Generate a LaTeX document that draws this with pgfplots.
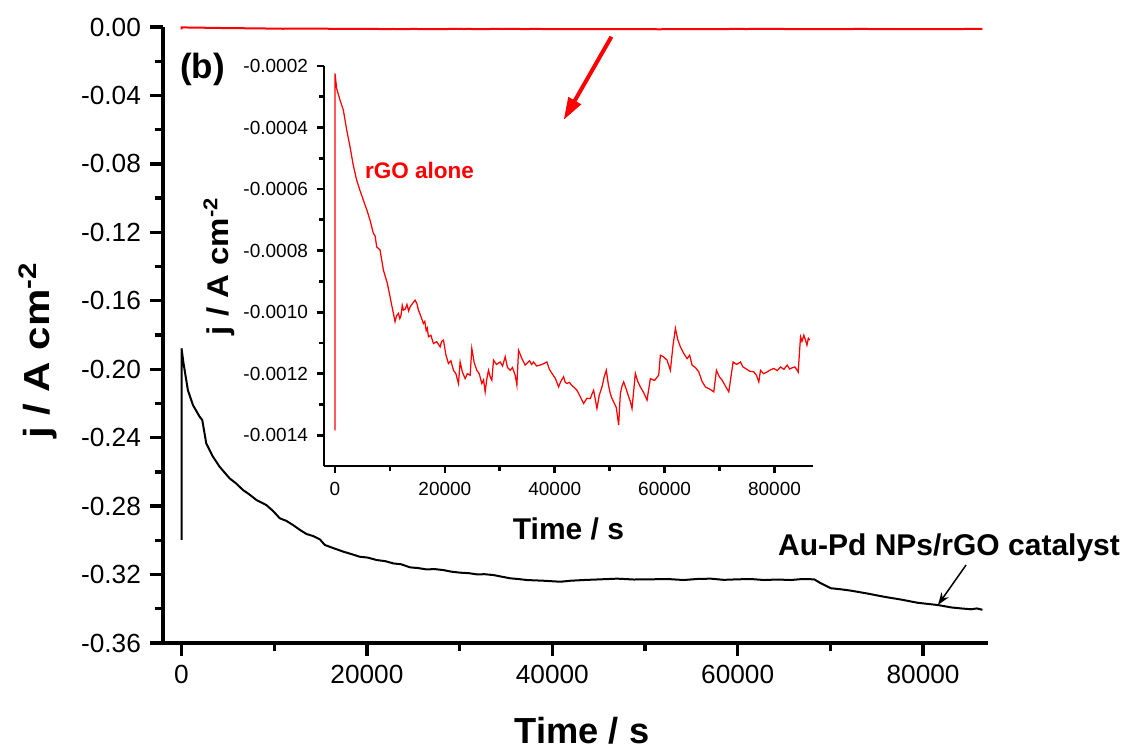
\documentclass[border=0pt]{standalone}
\usepackage{fontspec}
\setmainfont{Liberation Sans}
\usepackage{pgfplots}
\pgfplotsset{compat=1.18}
\usetikzlibrary{arrows.meta}

% Au-Pd NPs/rGO catalyst, j (A cm^-2) vs time (s)
\pgfplotstableread{
t j
0 -0.2998
0 -0.1878
216 -0.1966
685 -0.2122
1225 -0.2209
1946 -0.2277
2234 -0.2297
2667 -0.2433
3387 -0.2511
4108 -0.2570
5189 -0.2638
5900 -0.2668
6630 -0.2706
7300 -0.2731
8071 -0.2764
9153 -0.2794
9900 -0.2830
10594 -0.2871
11300 -0.2886
12036 -0.2911
12800 -0.2940
13477 -0.2963
14200 -0.2975
14918 -0.2994
15459 -0.3027
16400 -0.3046
17441 -0.3066
18300 -0.3080
19242 -0.3096
20100 -0.3101
21044 -0.3115
22000 -0.3122
22846 -0.3135
23700 -0.3140
24648 -0.3158
25500 -0.3162
26450 -0.3170
27300 -0.3168
28252 -0.3174
29100 -0.3183
30052 -0.3189
31000 -0.3192
31856 -0.3199
32700 -0.3198
33657 -0.3203
34500 -0.3212
35457 -0.3222
36300 -0.3226
37261 -0.3232
39000 -0.3236
40862 -0.3242
42000 -0.3236
43385 -0.3232
45200 -0.3228
46990 -0.3224
48800 -0.3229
50591 -0.3228
52400 -0.3226
54190 -0.3232
55600 -0.3226
57077 -0.3224
58500 -0.3231
59963 -0.3228
61400 -0.3226
62840 -0.3232
64300 -0.3229
65725 -0.3232
67000 -0.3226
68244 -0.3228
68968 -0.3251
70049 -0.3280
71100 -0.3286
72211 -0.3294
74000 -0.3311
75811 -0.3330
77600 -0.3346
79418 -0.3365
81580 -0.3378
83021 -0.3392
84100 -0.3398
85183 -0.3403
85800 -0.3398
86400 -0.3406
}\aupd

% rGO alone, j (A cm^-2) vs time (s)
\pgfplotstableread{
t j
0 -0.001384
0 -0.000224
304 -0.000273
900 -0.000310
1519 -0.000343
2100 -0.000405
2733 -0.000462
3300 -0.000520
3948 -0.000571
4500 -0.000602
5163 -0.000636
5800 -0.000668
6378 -0.000701
6985 -0.000744
7300 -0.000752
7593 -0.000788
8200 -0.000798
8807 -0.000863
9536 -0.000907
10022 -0.000950
10933 -0.001031
11200 -0.001012
11541 -0.001004
11800 -0.001021
12000 -0.001012
12250 -0.000978
12452 -0.000993
12800 -0.000990
13100 -0.000975
13400 -0.000996
13667 -0.000983
14100 -0.000972
14578 -0.000961
14900 -0.000972
15185 -0.000993
15600 -0.001012
16096 -0.001037
16350 -0.001030
16600 -0.001060
16800 -0.001052
17007 -0.001080
17450 -0.001075
17918 -0.001102
18500 -0.001096
19133 -0.001113
19400 -0.001095
19741 -0.001091
20200 -0.001140
20652 -0.001167
21100 -0.001158
21563 -0.001189
22000 -0.001200
22474 -0.001232
22778 -0.001162
23200 -0.001195
23689 -0.001216
24100 -0.001200
24600 -0.001205
24903 -0.001118
25350 -0.001165
25815 -0.001189
26250 -0.001200
26726 -0.001232
27050 -0.001220
27333 -0.001259
27650 -0.001215
27940 -0.001189
28250 -0.001210
28548 -0.001221
28852 -0.001156
29400 -0.001170
30066 -0.001162
30500 -0.001175
30977 -0.001145
31400 -0.001180
31889 -0.001189
32300 -0.001180
32800 -0.001205
33103 -0.001237
33407 -0.001124
34000 -0.001150
34622 -0.001172
35000 -0.001165
35400 -0.001158
35800 -0.001170
36140 -0.001162
36700 -0.001175
37355 -0.001172
37900 -0.001168
38570 -0.001162
39000 -0.001185
39481 -0.001199
40100 -0.001215
40696 -0.001243
41100 -0.001225
41607 -0.001210
41900 -0.001228
42214 -0.001232
42650 -0.001228
43100 -0.001238
43550 -0.001245
44037 -0.001254
44650 -0.001275
45251 -0.001297
45850 -0.001280
46466 -0.001281
46800 -0.001265
47074 -0.001254
47681 -0.001313
48100 -0.001270
48592 -0.001243
49000 -0.001210
49382 -0.001189
49750 -0.001235
50111 -0.001265
50400 -0.001280
50718 -0.001292
51200 -0.001310
51629 -0.001367
51933 -0.001265
52250 -0.001240
52540 -0.001227
53000 -0.001250
53451 -0.001275
53750 -0.001290
54059 -0.001313
54666 -0.001199
55100 -0.001225
55577 -0.001243
56200 -0.001262
56792 -0.001286
57399 -0.001216
58150 -0.001222
58918 -0.001205
59222 -0.001140
59800 -0.001145
60436 -0.001156
61044 -0.001189
61530 -0.001107
61955 -0.001053
62400 -0.001090
62866 -0.001113
63500 -0.001135
64081 -0.001151
64550 -0.001140
64992 -0.001172
65600 -0.001180
66207 -0.001194
66800 -0.001225
67421 -0.001243
68200 -0.001250
68940 -0.001259
69426 -0.001189
69950 -0.001210
70458 -0.001221
71050 -0.001240
71673 -0.001259
72463 -0.001162
73100 -0.001170
73799 -0.001162
74250 -0.001178
74710 -0.001183
75500 -0.001192
76229 -0.001194
76700 -0.001205
77140 -0.001227
77444 -0.001189
78000 -0.001200
78600 -0.001195
79200 -0.001188
79873 -0.001183
80500 -0.001190
81100 -0.001178
81700 -0.001186
82303 -0.001172
82750 -0.001185
83200 -0.001181
83700 -0.001178
84125 -0.001189
84300 -0.001195
84733 -0.001080
85000 -0.001095
85340 -0.001075
85650 -0.001092
85900 -0.001107
86150 -0.001085
86400 -0.001091
}\rgo

\pgfplotsset{
  every axis/.append style={
    scale only axis,
    axis lines*=left,
    axis line style={-},
    tick align=outside,
    xmin=-2000, xmax=87000,
    xtick={0,20000,40000,60000,80000},
    minor x tick num=1, minor y tick num=1,
    scaled ticks=false,
    clip=false,
    /pgf/number format/assume math mode=true,
    xticklabel style={/pgf/number format/1000 sep={}},
  }
}

\begin{document}
\begin{tikzpicture}
\useasboundingbox (-65.2pt,-42pt) rectangle (390pt,257.2pt);
\begin{axis}[
    name=main, at={(0pt,0pt)}, anchor=south west,
    width=330pt, height=246.4pt,
    ymin=-0.36, ymax=0,
    ytick={-0.36,-0.32,-0.28,-0.24,-0.20,-0.16,-0.12,-0.08,-0.04,0},
    yticklabel style={/pgf/number format/.cd, fixed, fixed zerofill, precision=2},
    axis line style={line width=1.3pt},
    every tick/.style={black, line width=1.3pt},
    major tick length=5.3pt, minor tick length=3.3pt,
    tick label style={font=\fontsize{10.5}{12}\selectfont},
    xlabel={Time / s}, ylabel={\scalebox{1.16}[1]{j / A cm\textsuperscript{-2}}},
    label style={font=\fontsize{14.5}{17}\bfseries\selectfont},
    xlabel style={at={(axis description cs:0.508,0)}, anchor=base, yshift=-40.4pt},
    ylabel style={at={(axis description cs:-0.137,0.475)}, anchor=base},
]
\addplot[black, line width=0.8pt] table[x=t, y=j] {\aupd};
\addplot[red, line width=0.8pt] table[x=t, y=j] {\rgo};
\node[font=\fontsize{14}{16}\bfseries\selectfont] at (axis cs:2270,-0.0251) {(b)};
\draw[red, line width=1.6pt, -{Triangle[length=9pt, width=5.5pt]}]
    (axis cs:46375,-0.0057) -- (axis cs:41218,-0.0544);
\node[font=\fontsize{12}{14}\bfseries\selectfont] at (axis cs:82800,-0.3045) {Au-Pd NPs/rGO catalyst};
\draw[black, line width=0.6pt, -{Stealth[length=5pt, width=3.5pt]}]
    (axis cs:84640,-0.3144) -- (axis cs:81600,-0.3378);
\end{axis}

\begin{axis}[
    name=inset, at={(64.4pt,70.8pt)}, anchor=south west,
    width=195.6pt, height=160pt,
    ymin=-0.0015, ymax=-0.0002,
    ytick={-0.0014,-0.0012,-0.0010,-0.0008,-0.0006,-0.0004,-0.0002},
    yticklabel style={/pgf/number format/.cd, fixed, fixed zerofill, precision=4},
    axis line style={line width=1.1pt},
    every tick/.style={black, line width=1.1pt},
    major tick length=2.9pt, minor tick length=2pt,
    tick label style={font=\fontsize{7.6}{9}\selectfont},
    xlabel={Time / s}, ylabel={\scalebox{1.1}[1]{j / A cm\textsuperscript{-2}}},
    label style={font=\fontsize{12}{14}\bfseries\selectfont},
    xlabel style={at={(axis description cs:0.5,0)}, anchor=base, yshift=-29.6pt},
    ylabel style={at={(axis description cs:-0.196,0.5)}, anchor=base},
]
\addplot[red, line width=0.5pt] table[x=t, y=j] {\rgo};
\node[red, font=\fontsize{9}{11}\bfseries\selectfont] at (axis cs:15400,-0.00054) {rGO alone};
\end{axis}
\end{tikzpicture}
\end{document}
